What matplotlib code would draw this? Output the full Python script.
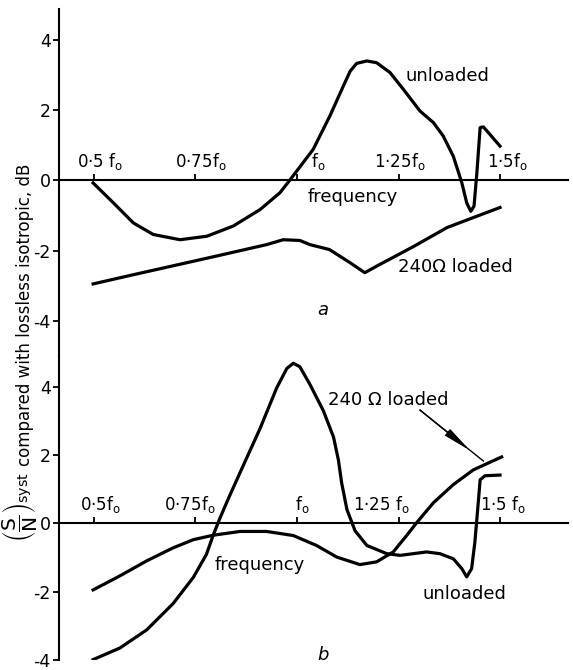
import numpy as np
import matplotlib
matplotlib.use('Agg')
import matplotlib.pyplot as plt
from matplotlib.transforms import ScaledTranslation

plt.rcParams['font.family'] = ['DejaVu Sans']
plt.rcParams['mathtext.default'] = 'regular'

# panel a (frequency in units of f0, dB)
freq_a_unloaded = [0.498, 0.548, 0.597, 0.646, 0.712, 0.778, 0.843, 0.909, 0.958, 0.985, 1.040,
                   1.081, 1.114, 1.131, 1.147, 1.172, 1.196, 1.229, 1.262, 1.303, 1.336, 1.360,
                   1.385, 1.406, 1.418, 1.428, 1.436, 1.443, 1.451, 1.459, 1.500]
db_a_unloaded = [-0.07, -0.64, -1.21, -1.54, -1.69, -1.59, -1.30, -0.83, -0.35, 0.05, 0.89,
                 1.84, 2.69, 3.12, 3.34, 3.41, 3.36, 3.08, 2.60, 1.98, 1.65, 1.27,
                 0.69, -0.07, -0.64, -0.88, -0.73, 0.22, 1.51, 1.53, 0.98]

freq_a_loaded = [0.498, 0.60, 0.70, 0.80, 0.925, 0.966, 1.007, 1.032, 1.08, 1.13, 1.167,
                 1.20, 1.286, 1.37, 1.50]
db_a_loaded = [-2.95, -2.68, -2.42, -2.16, -1.83, -1.69, -1.71, -1.83, -1.97, -2.34, -2.63,
               -2.42, -1.89, -1.34, -0.77]

# panel b
freq_b_unloaded = [0.498, 0.564, 0.630, 0.695, 0.745, 0.777, 0.794, 0.810, 0.831, 0.870, 0.909,
                   0.950, 0.975, 0.991, 1.007, 1.032, 1.065, 1.090, 1.102, 1.110, 1.123, 1.143,
                   1.172, 1.221, 1.254, 1.319, 1.352, 1.385, 1.406, 1.418, 1.430, 1.438,
                   1.447, 1.451, 1.463, 1.500]
db_b_unloaded = [-3.99, -3.65, -3.12, -2.35, -1.58, -0.91, -0.34, 0.14, 0.72, 1.75, 2.77,
                 3.96, 4.53, 4.68, 4.58, 4.06, 3.29, 2.52, 1.85, 1.18, 0.40, -0.22,
                 -0.65, -0.89, -0.94, -0.84, -0.89, -1.04, -1.33, -1.57, -1.33, -0.56,
                 0.69, 1.27, 1.39, 1.41]

freq_b_loaded = [0.498, 0.564, 0.630, 0.695, 0.745, 0.794, 0.860, 0.925, 0.991, 1.048, 1.098,
                 1.155, 1.196, 1.237, 1.270, 1.295, 1.336, 1.385, 1.434, 1.467, 1.504]
db_b_loaded = [-1.95, -1.54, -1.10, -0.72, -0.48, -0.35, -0.24, -0.24, -0.36, -0.65, -0.99,
               -1.21, -1.13, -0.84, -0.36, 0.02, 0.60, 1.13, 1.56, 1.74, 1.94]

tick_freq = [0.5, 0.75, 1.0, 1.25, 1.5]
tick_text_a = ['0·5 f$_o$', '0·75f$_o$', 'f$_o$', '1·25f$_o$', '1·5f$_o$']
tick_text_b = ['0·5f$_o$', '0·75f$_o$', 'f$_o$', '1·25 f$_o$', '1·5 f$_o$']
y_ticks = [-4, -2, 0, 2, 4]
y_text = ['-4', '-2', '0', '2', '4']

fig = plt.figure(figsize=(5.73, 6.70), dpi=100)
ax_a = fig.add_axes([0.103, 0.469, 0.888, 0.518])
ax_b = fig.add_axes([0.103, 0.015, 0.888, 0.454])

# small sideways shifts of the frequency labels, in pixels
shift_a = [6, 5, 21, 1, 7]
shift_b = [7, -6, 5, -17, 3]

for ax, lim, labels, shifts in ((ax_a, (-5.0, 4.9), tick_text_a, shift_a),
                                (ax_b, (-4.0, 4.9), tick_text_b, shift_b)):
    ax.set_xlim(0.414, 1.667)
    ax.set_ylim(*lim)
    ax.patch.set_alpha(0)
    ax.spines['right'].set_visible(False)
    ax.spines['bottom'].set_visible(False)
    ax.spines['top'].set_position(('data', 0))
    ax.spines['top'].set_linewidth(1.5)
    ax.spines['left'].set_linewidth(1.5)
    ax.xaxis.set_ticks_position('top')
    ax.set_xticks(tick_freq)
    ax.set_xticklabels(labels)
    ax.tick_params(axis='x', direction='out', length=4, width=1.3, pad=2, labelsize=12)
    for lab, dx in zip(ax.get_xticklabels(), shifts):
        lab.set_transform(lab.get_transform() + ScaledTranslation(dx / 100, 0, fig.dpi_scale_trans))
    ax.set_yticks(y_ticks)
    ax.set_yticklabels(y_text)
    ax.tick_params(axis='y', direction='out', length=4, width=1.3, pad=2, labelsize=12.5)

lw = 2.3
ax_a.plot(freq_a_unloaded, db_a_unloaded, color='black', lw=lw, solid_joinstyle='round')
ax_a.plot(freq_a_loaded, db_a_loaded, color='black', lw=lw, solid_joinstyle='round')
ax_a.text(1.266, 2.97, 'unloaded', fontsize=13, va='center')
ax_a.text(1.249, -2.46, '240Ω loaded', fontsize=13, va='center')
ax_a.text(1.138, -0.46, 'frequency', fontsize=13, va='center', ha='center')
ax_a.text(1.05, -3.69, 'a', fontsize=13, style='italic', va='center')

ax_b.plot(freq_b_unloaded, db_b_unloaded, color='black', lw=lw, solid_joinstyle='round')
ax_b.plot(freq_b_loaded, db_b_loaded, color='black', lw=lw, solid_joinstyle='round')
ax_b.text(1.076, 3.6, '240 Ω loaded', fontsize=13, va='center')
ax_b.text(1.308, -2.07, 'unloaded', fontsize=13, va='center')
ax_b.text(0.798, -1.21, 'frequency', fontsize=13, va='center')
ax_b.text(1.05, -3.85, 'b', fontsize=13, style='italic', va='center')
# pointer: thin line to the curve with a narrow filled head partway along it
ax_b.plot([1.303, 1.459], [3.31, 1.82], color='black', lw=1.0)
ax_b.annotate('', xy=(1.426, 2.13), xytext=(1.303, 3.31),
              arrowprops=dict(arrowstyle='-|>,head_length=1.7,head_width=0.25',
                              color='black', lw=1.0, shrinkA=0, shrinkB=0))

# y label in two parts so the tall fraction does not widen the whole line
fig.text(0.044, 1 - 466 / 670, 'compared with lossless isotropic, dB',
         rotation=90, ha='center', va='bottom', fontsize=12)
fig.text(0.034, 1 - 472 / 670, r'$\left(\dfrac{S}{N}\right)_{syst}$',
         rotation=90, ha='center', va='top', fontsize=14.5)

fig.savefig('out.png', dpi=100)
